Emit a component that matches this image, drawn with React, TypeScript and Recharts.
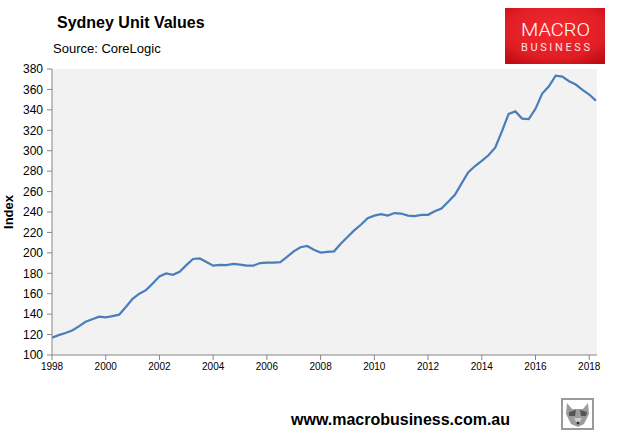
import { CartesianGrid, Line, LineChart, XAxis, YAxis } from "recharts";

// quarterly readings, decimal year
const years = [
  1998, 1998.25, 1998.5, 1998.75, 1999, 1999.25, 1999.5, 1999.75,
  2000, 2000.25, 2000.5, 2000.75, 2001, 2001.25, 2001.5, 2001.75,
  2002, 2002.25, 2002.5, 2002.75, 2003, 2003.25, 2003.5, 2003.75,
  2004, 2004.25, 2004.5, 2004.75, 2005, 2005.25, 2005.5, 2005.75,
  2006, 2006.25, 2006.5, 2006.75, 2007, 2007.25, 2007.5, 2007.75,
  2008, 2008.25, 2008.5, 2008.75, 2009, 2009.25, 2009.5, 2009.75,
  2010, 2010.25, 2010.5, 2010.75, 2011, 2011.25, 2011.5, 2011.75,
  2012, 2012.25, 2012.5, 2012.75, 2013, 2013.25, 2013.5, 2013.75,
  2014, 2014.25, 2014.5, 2014.75, 2015, 2015.25, 2015.5, 2015.75,
  2016, 2016.25, 2016.5, 2016.75, 2017, 2017.25, 2017.5, 2017.75,
  2018, 2018.25,
];

const unitValues = [
  117, 119.5, 121.5, 124, 128, 132.5, 135, 137.5,
  136.8, 138, 139.5, 147, 155, 160, 163.5, 170,
  177, 179.8, 178.5, 181.5, 188, 194, 194.5, 191,
  187.5, 188.2, 188, 189.3, 188.5, 187.5, 187.5, 190,
  190.5, 190.5, 191, 196, 201.5, 205.5, 206.8, 203,
  200.3, 201, 201.5, 209, 215.5, 222, 227.5, 234,
  236.5, 238, 236.5, 239, 238.5, 236.5, 236, 237.2,
  237.2, 240.8, 243.5, 250, 256.8, 268, 279, 285,
  290, 295.5, 303, 319, 336, 338.5, 331.5, 331,
  341, 356, 363, 373.5, 372.5, 368, 364.8, 359.5,
  355, 349,
];

const yTicks = [100, 120, 140, 160, 180, 200, 220, 240, 260, 280, 300, 320, 340, 360, 380];
const xTicks = [1998, 2000, 2002, 2004, 2006, 2008, 2010, 2012, 2014, 2016, 2018];

const data = years.map((year, i) => ({ year, value: unitValues[i] }));

const font = "'Liberation Sans', Arial, sans-serif";
const axisGrey = "#868686";

function Overlay() {
  return (
    <svg
      width={622}
      height={444}
      style={{ position: "absolute", left: 0, top: 0, pointerEvents: "none" }}
    >
      <defs>
        <radialGradient id="logoRed" cx="50%" cy="40%" r="70%">
          <stop offset="0%" stopColor="#f42a30" />
          <stop offset="70%" stopColor="#e11e25" />
          <stop offset="100%" stopColor="#c00d14" />
        </radialGradient>
      </defs>
      <text x={57} y={28} fontFamily={font} fontWeight="bold" fontSize={16} fill="#000">
        Sydney Unit Values
      </text>
      <text x={53} y={53} fontFamily={font} fontSize={13} fill="#000">
        Source: CoreLogic
      </text>
      <text
        transform="translate(13,212) rotate(-90)"
        textAnchor="middle"
        fontFamily={font}
        fontWeight="bold"
        fontSize={13}
        fill="#000"
      >
        Index
      </text>

      <rect x={505} y={8} width={100} height={56} fill="url(#logoRed)" />
      <text
        x={521}
        y={36}
        textLength={69}
        lengthAdjust="spacingAndGlyphs"
        fontFamily="Roboto, sans-serif"
        fontWeight={300}
        fontSize={19}
        fill="#fff"
      >
        MACRO
      </text>
      <text
        x={521}
        y={51}
        textLength={69}
        lengthAdjust="spacing"
        fontFamily="Roboto, sans-serif"
        fontWeight={400}
        fontSize={11}
        fill="#fbe3e4"
      >
        BUSINESS
      </text>

      <text x={291} y={425} fontFamily={font} fontWeight="bold" fontSize={16} fill="#000">
        www.macrobusiness.com.au
      </text>

      <g>
        <rect x={562} y={399} width={31} height={30} fill="#fff" stroke="#9a9a9a" strokeWidth={2} />
        <polygon points="567,403 572,409 583,409 588,403 589,414 584,424 578,427 571,424 566,414" fill="#9c9c9c" />
        <polygon points="569,412 576,410 575,416 569,416" fill="#555" />
        <polygon points="580,410 587,412 586,416 581,416" fill="#555" />
        <polygon points="574,418 582,418 578,425" fill="#cfcfcf" />
        <circle cx={578} cy={423} r={1.5} fill="#333" />
      </g>
    </svg>
  );
}

export default function App() {
  return (
    <div
      style={{
        position: "absolute",
        left: 0,
        top: 0,
        width: 622,
        height: 444,
        background: "#fff",
        fontFamily: font,
      }}
    >
      <LineChart
        width={622}
        height={444}
        data={data}
        margin={{ top: 69, right: 25, bottom: 59, left: 0 }}
      >
        <CartesianGrid fill="#f2f2f2" horizontal={false} vertical={false} />
        <XAxis
          dataKey="year"
          type="number"
          domain={[1998, 2018.29]}
          ticks={xTicks}
          allowDataOverflow
          stroke={axisGrey}
          tickSize={5}
          tickMargin={3}
          tick={{ fontSize: 10, fill: "#000", fontFamily: font }}
          height={30}
        />
        <YAxis
          type="number"
          domain={[100, 380]}
          ticks={yTicks}
          stroke={axisGrey}
          width={52}
          tickSize={5}
          tickMargin={4}
          tick={{ fontSize: 12, fill: "#000", fontFamily: font }}
        />
        <Line
          type="linear"
          dataKey="value"
          stroke="#4a7ebb"
          strokeWidth={2.25}
          dot={false}
          isAnimationActive={false}
        />
      </LineChart>
      <Overlay />
    </div>
  );
}
